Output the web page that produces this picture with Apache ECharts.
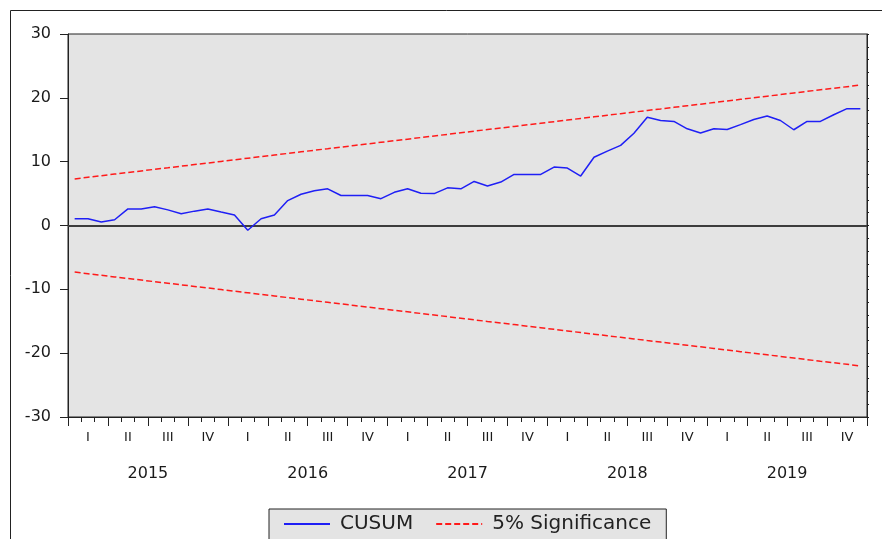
<!DOCTYPE html>
<html>
<head>
<meta charset="utf-8">
<script src="https://cdn.jsdelivr.net/npm/echarts@6/dist/echarts.min.js"></script>
<style>
  html, body { margin: 0; padding: 0; background: #fff; }
  #chart { width: 882px; height: 539px; }
</style>
</head>
<body>
<div id="chart"></div>
<script>
const years = ['2015', '2016', '2017', '2018', '2019'];
const quarterNames = ['I', 'II', 'III', 'IV'];
const yTicks = [-30, -20, -10, 0, 10, 20, 30];

// monthly CUSUM, 2015M01 .. 2019M12
const cusum = [
  1.05, 1.05, 0.55, 0.9, 2.6, 2.6, 2.95, 2.45, 1.85, 2.25, 2.6, 2.1,
  1.65, -0.75, 1.05, 1.65, 3.9, 4.9, 5.45, 5.75, 4.7, 4.7, 4.7, 4.2,
  5.2, 5.75, 5.05, 5.0, 5.9, 5.75, 6.9, 6.2, 6.8, 8.0, 8.0, 8.0,
  9.15, 9.0, 7.75, 10.7, 11.65, 12.55, 14.45, 16.95, 16.45, 16.3, 15.15, 14.5,
  15.15, 15.05, 15.8, 16.6, 17.15, 16.45, 15.0, 16.3, 16.3, 17.35, 18.3, 18.3
];

// 5% significance bounds
const upper = [
  7.30, 7.55, 7.80, 8.05, 8.30, 8.55, 8.80, 9.04, 9.29, 9.54, 9.79, 10.04,
  10.29, 10.54, 10.79, 11.04, 11.29, 11.54, 11.79, 12.03, 12.28, 12.53, 12.78, 13.03,
  13.28, 13.53, 13.78, 14.03, 14.28, 14.53, 14.78, 15.03, 15.27, 15.52, 15.77, 16.02,
  16.27, 16.52, 16.77, 17.02, 17.27, 17.52, 17.77, 18.02, 18.26, 18.51, 18.76, 19.01,
  19.26, 19.51, 19.76, 20.01, 20.26, 20.51, 20.76, 21.01, 21.26, 21.50, 21.75, 22.00
];
const lower = [
  -7.30, -7.55, -7.80, -8.05, -8.30, -8.55, -8.80, -9.04, -9.29, -9.54, -9.79, -10.04,
  -10.29, -10.54, -10.79, -11.04, -11.29, -11.54, -11.79, -12.03, -12.28, -12.53, -12.78, -13.03,
  -13.28, -13.53, -13.78, -14.03, -14.28, -14.53, -14.78, -15.03, -15.27, -15.52, -15.77, -16.02,
  -16.27, -16.52, -16.77, -17.02, -17.27, -17.52, -17.77, -18.02, -18.26, -18.51, -18.76, -19.01,
  -19.26, -19.51, -19.76, -20.01, -20.26, -20.51, -20.76, -21.01, -21.26, -21.50, -21.75, -22.00
];

// category lists for the stacked x axes
let months = [];
let quarters = [];
years.forEach(y => {
  quarterNames.forEach(q => quarters.push(q));
  for (let m = 1; m <= 12; m++) {
    months.push(y + 'M' + (m < 10 ? '0' + m : m));
  }
});

const font = 'DejaVu Sans';
const ink = '#1a1a1a';

let chart = echarts.init(document.getElementById('chart'), null, { renderer: 'canvas' });

chart.setOption({
  animation: false,
  backgroundColor: '#ffffff',
  graphic: [{
    type: 'rect',
    shape: { x: 10.5, y: 10.5, width: 900, height: 600 },
    style: { fill: 'none', stroke: '#222', lineWidth: 1 },
    silent: true
  }],
  grid: {
    left: 68, right: 15, top: 34, bottom: 122,
    show: true,
    backgroundColor: '#e4e4e4',
    borderColor: '#222',
    borderWidth: 1
  },
  legend: {
    left: 269, top: 509,
    padding: [5, 15, 20, 14],
    itemGap: 22,
    itemWidth: 46,
    itemHeight: 14,
    backgroundColor: '#e4e4e4',
    borderColor: '#222',
    borderWidth: 1,
    borderRadius: 0,
    itemStyle: { opacity: 0, borderWidth: 0 },
    textStyle: { fontFamily: font, fontSize: 20, color: '#222', padding: [0, 0, 0, 5] },
    data: ['CUSUM', '5% Significance']
  },
  xAxis: [
    {
      // monthly axis that carries the series (drawn by the axes below)
      type: 'category',
      data: months,
      position: 'bottom',
      boundaryGap: true,
      axisLine: { show: false, onZero: false },
      axisTick: { show: false },
      axisLabel: { show: false },
      splitLine: { show: false }
    },
    {
      // quarter boundaries as major ticks, months as minor ticks
      type: 'value',
      min: 0,
      max: quarters.length,
      interval: 1,
      position: 'bottom',
      axisLine: { show: true, onZero: false, lineStyle: { color: '#222', width: 1 } },
      axisTick: { show: true, length: 9, lineStyle: { color: '#222', width: 1 } },
      minorTick: { show: true, splitNumber: 3, length: 5, lineStyle: { color: '#222', width: 1 } },
      axisLabel: { show: true, formatter: () => '', fontSize: 2 },
      splitLine: { show: false },
      minorSplitLine: { show: false }
    },
    {
      // quarter labels
      type: 'category',
      data: quarters,
      position: 'bottom',
      boundaryGap: true,
      axisLine: { show: false, onZero: false },
      axisTick: { show: false },
      axisLabel: { interval: 0, margin: 14, fontFamily: font, fontSize: 13, color: ink },
      splitLine: { show: false }
    },
    {
      // year labels
      type: 'category',
      data: years,
      position: 'bottom',
      boundaryGap: true,
      axisLine: { show: false, onZero: false },
      axisTick: { show: false },
      axisLabel: { interval: 0, margin: 49, fontFamily: font, fontSize: 16, color: ink },
      splitLine: { show: false }
    }
  ],
  yAxis: [
    {
      type: 'value',
      min: yTicks[0],
      max: yTicks[yTicks.length - 1],
      interval: 10,
      position: 'left',
      axisLine: { show: true, lineStyle: { color: '#222', width: 1 } },
      axisTick: { show: true, length: 8, lineStyle: { color: '#222' } },
      axisLabel: { margin: 17, fontFamily: font, fontSize: 16, color: ink },
      splitLine: { show: false }
    },
    {
      type: 'value',
      min: -30,
      max: 30,
      interval: 2,
      position: 'right',
      axisLine: { show: true, lineStyle: { color: '#222', width: 1 } },
      axisTick: { show: true, length: 2, lineStyle: { color: '#222' } },
      axisLabel: { show: false },
      splitLine: { show: false }
    }
  ],
  series: [
    {
      name: 'CUSUM',
      type: 'line',
      xAxisIndex: 0,
      yAxisIndex: 0,
      data: cusum,
      symbol: 'none',
      color: '#1f1ff5',
      lineStyle: { color: '#1f1ff5', width: 1.5 },
      z: 5,
      markLine: {
        silent: true,
        symbol: 'none',
        label: { show: false },
        lineStyle: { color: '#3c3c3c', width: 2, type: 'solid' },
        data: [{ yAxis: 0 }]
      }
    },
    {
      name: '5% Significance',
      type: 'line',
      xAxisIndex: 0,
      yAxisIndex: 0,
      data: upper,
      symbol: 'none',
      color: '#ff1a1a',
      lineStyle: { color: '#ff1a1a', width: 1.5, type: [6, 3] },
      z: 4
    },
    {
      name: '5% Significance',
      type: 'line',
      xAxisIndex: 0,
      yAxisIndex: 0,
      data: lower,
      symbol: 'none',
      color: '#ff1a1a',
      lineStyle: { color: '#ff1a1a', width: 1.5, type: [6, 3] },
      z: 4
    }
  ]
});
</script>
</body>
</html>
